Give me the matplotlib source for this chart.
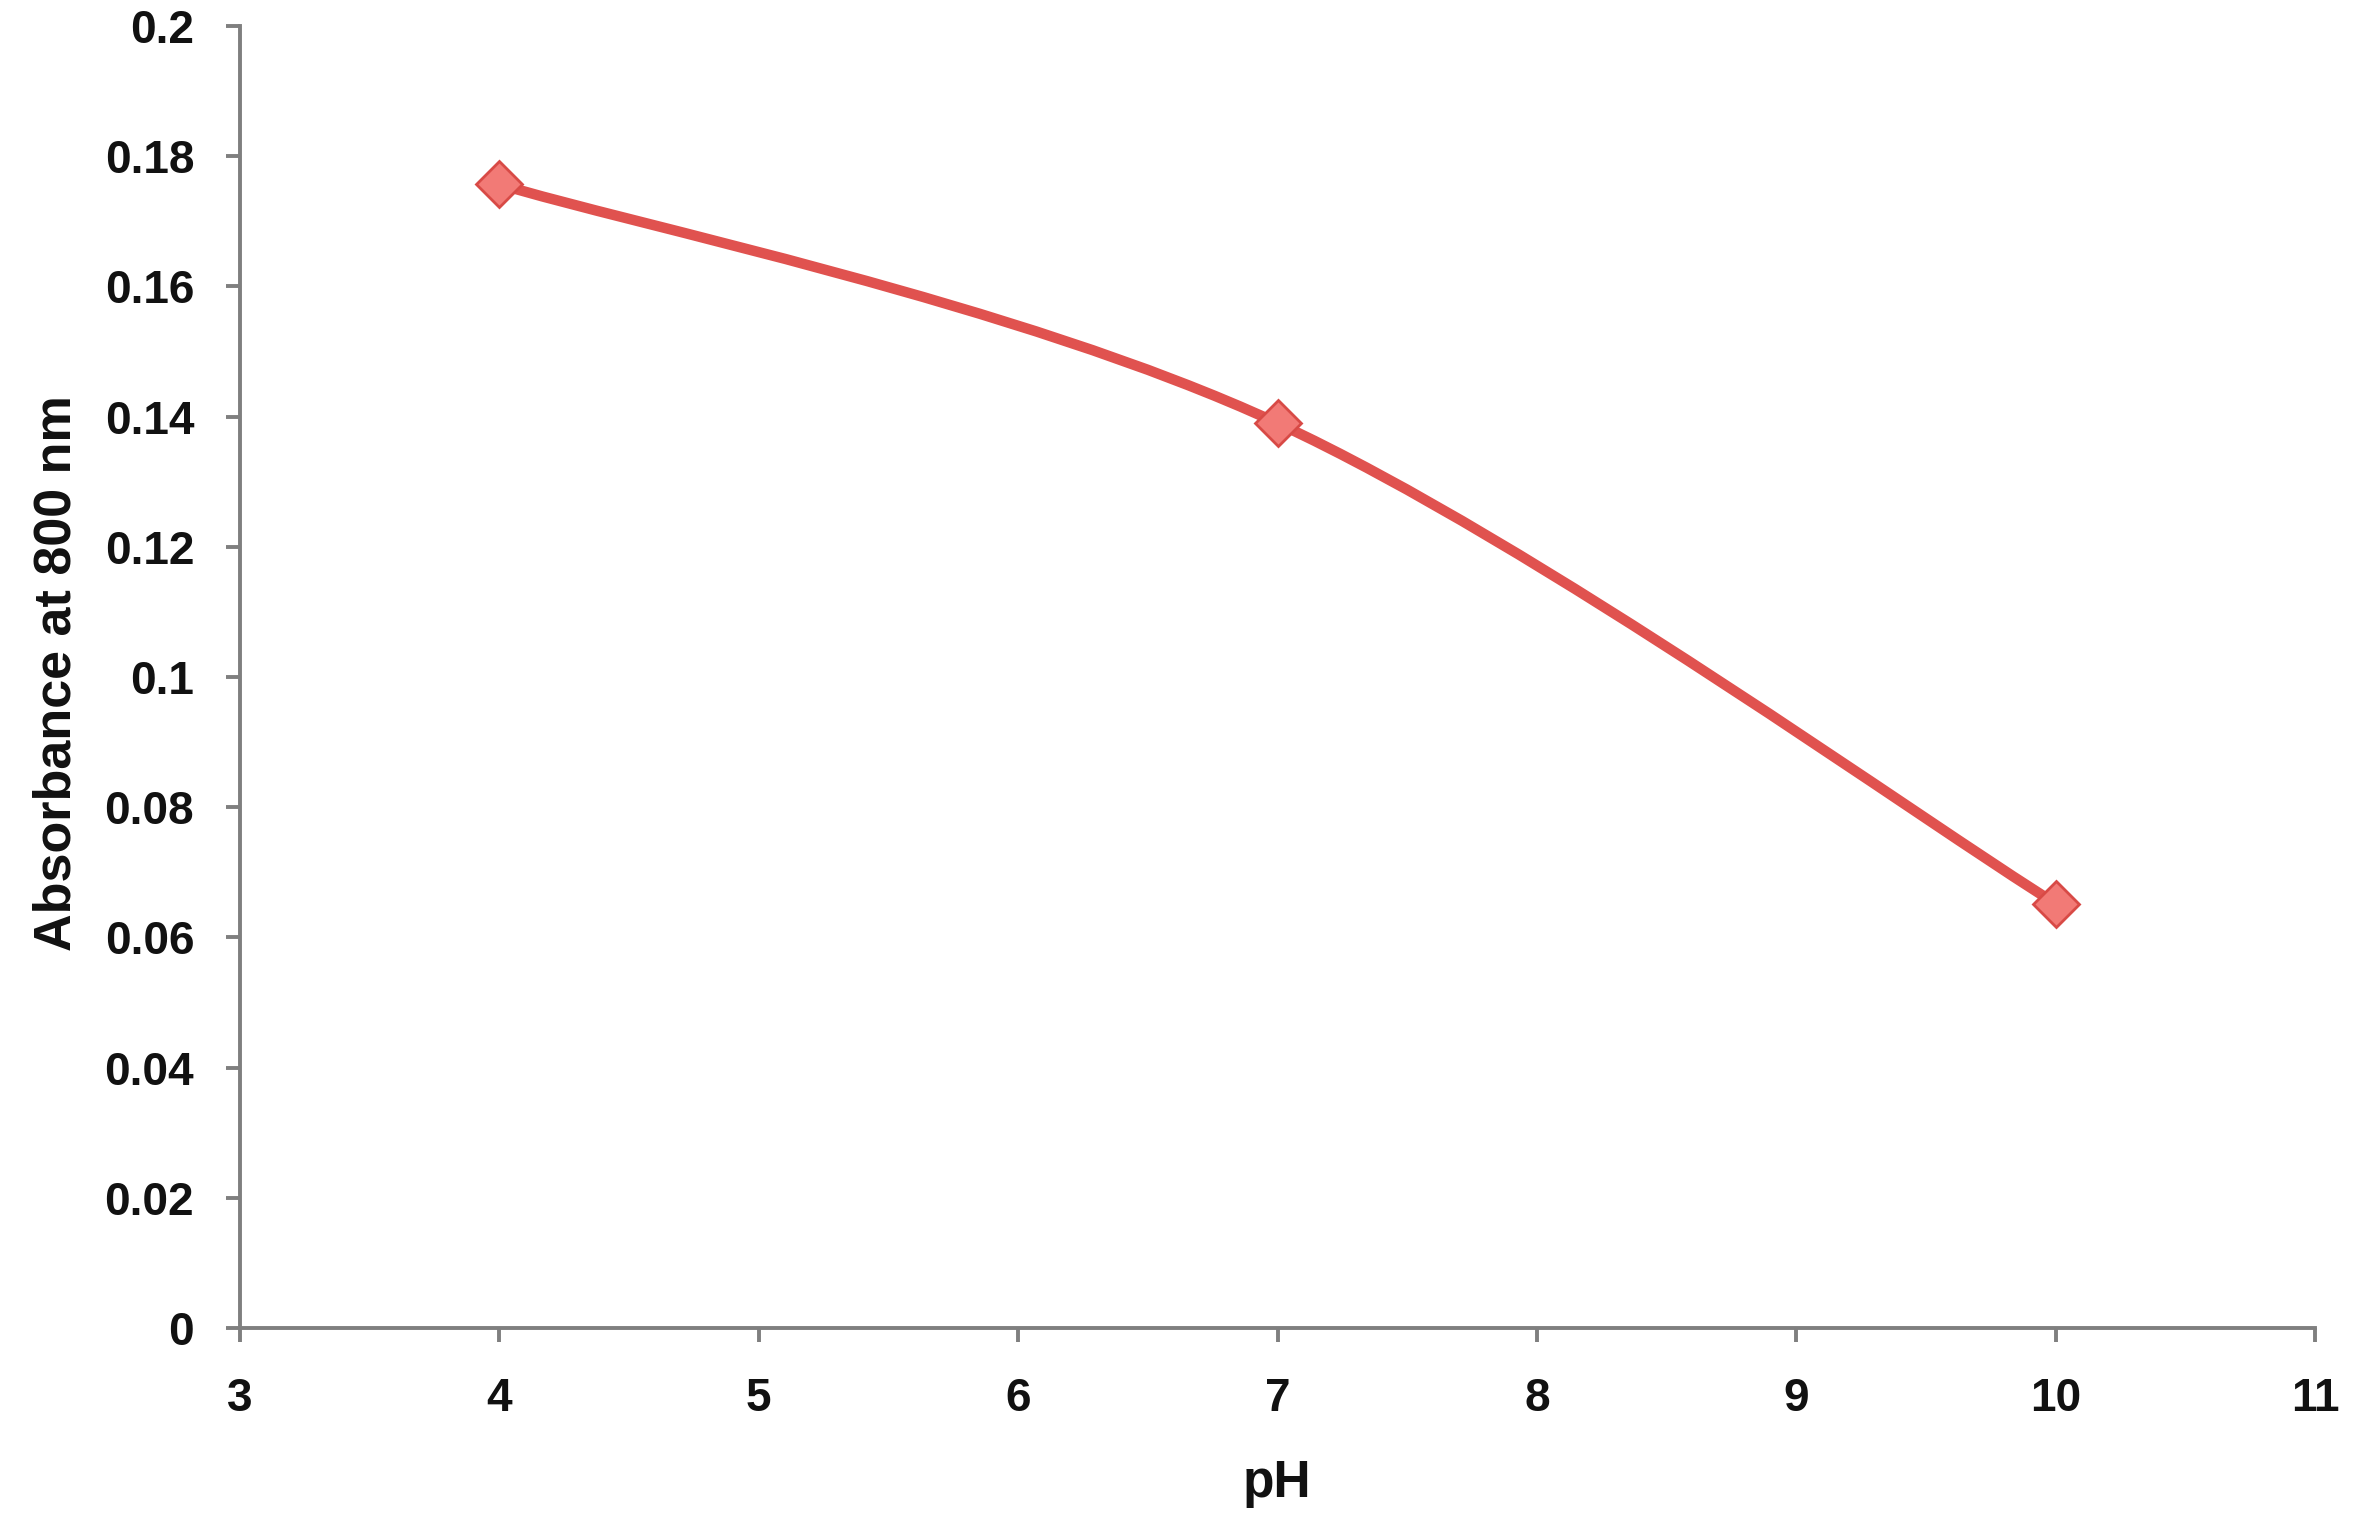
import matplotlib
matplotlib.use("Agg")
import matplotlib.pyplot as plt
from matplotlib.path import Path
from matplotlib.patches import PathPatch
import numpy as np

ph = [4, 7, 10]
absorbance = [0.1757, 0.139, 0.0652]
xticks = [3, 4, 5, 6, 7, 8, 9, 10, 11]
yticks = [0, 0.02, 0.04, 0.06, 0.08, 0.1, 0.12, 0.14, 0.16, 0.18, 0.2]
ytick_labels = ["0", "0.02", "0.04", "0.06", "0.08", "0.1", "0.12", "0.14", "0.16", "0.18", "0.2"]

W, H = 2362, 1528
fig = plt.figure(figsize=(W / 100, H / 100), dpi=100)
left, right, bottom, top = 240, 2315, 1328, 26
ax = fig.add_axes([left / W, (H - bottom) / H, (right - left) / W, (bottom - top) / H])

font = "Liberation Sans"
line_c = "#E0524F"
spine_c = "#7F7F7F"

# smooth line through points (Catmull-Rom as cubic Bezier)
pts = np.column_stack([ph, absorbance])
n = len(pts)
verts = [tuple(pts[0])]
codes = [Path.MOVETO]
for i in range(n - 1):
    p0 = pts[max(i - 1, 0)]
    p1 = pts[i]
    p2 = pts[i + 1]
    p3 = pts[min(i + 2, n - 1)]
    c1 = p1 + (p2 - p0) / 6
    c2 = p2 - (p3 - p1) / 6
    verts += [tuple(c1), tuple(c2), tuple(p2)]
    codes += [Path.CURVE4] * 3
patch = PathPatch(Path(verts, codes), facecolor="none", edgecolor=line_c, lw=7.5,
                  capstyle="round", joinstyle="round", transform=ax.transData, zorder=3)
ax.add_patch(patch)
ax.plot(ph, absorbance, linestyle="none", marker="D", ms=23, mfc="#F27A76",
        mec="#D84A46", mew=2, zorder=4)

ax.set_xlim(3, 11)
ax.set_ylim(0, 0.2)
ax.set_xticks(xticks)
ax.set_xticklabels([str(t) for t in xticks])
ax.set_yticks(yticks)
ax.set_yticklabels(ytick_labels)

for s in ["top", "right"]:
    ax.spines[s].set_visible(False)
for s in ["left", "bottom"]:
    ax.spines[s].set_color(spine_c)
    ax.spines[s].set_linewidth(2.8)

ax.tick_params(axis="both", direction="out", length=10, width=2.8, color=spine_c,
               labelcolor="#111111")
ax.tick_params(axis="y", pad=23)
ax.tick_params(axis="x", pad=25)
for lab in ax.get_xticklabels() + ax.get_yticklabels():
    lab.set_fontfamily(font)
    lab.set_fontweight("bold")
    lab.set_fontsize(33)

fig.text(1277 / W, 1 - 1484 / H, "pH", ha="center", va="center", fontsize=37,
         fontweight="bold", family=font, color="#111111")
fig.text(57 / W, 1 - 673 / H, "Absorbance at 800 nm", ha="center", va="center",
         rotation=90, fontsize=37.5, fontweight="bold", family=font, color="#111111")

fig.savefig("out.png", dpi=100, facecolor="white")
